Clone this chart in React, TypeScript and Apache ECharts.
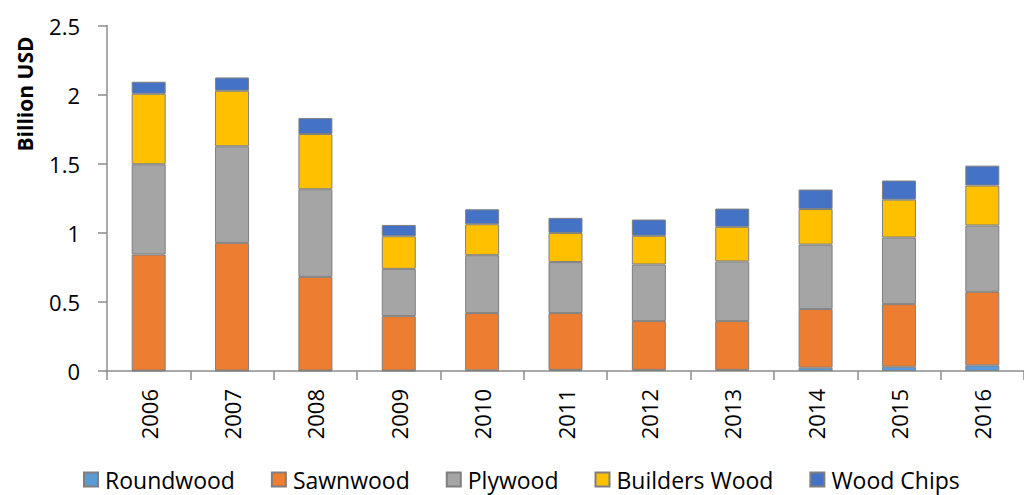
import React, { useEffect, useRef } from "react";
import * as echarts from "echarts";

const years = ["2006", "2007", "2008", "2009", "2010", "2011", "2012", "2013", "2014", "2015", "2016"];
const roundwood = [0.003, 0.003, 0.003, 0.003, 0.005, 0.008, 0.008, 0.008, 0.024, 0.031, 0.041];
const sawnwood = [0.84, 0.924, 0.678, 0.394, 0.414, 0.411, 0.353, 0.353, 0.424, 0.453, 0.532];
const plywood = [0.653, 0.699, 0.634, 0.342, 0.419, 0.369, 0.41, 0.432, 0.467, 0.482, 0.48];
const buildersWood = [0.51, 0.402, 0.4, 0.236, 0.224, 0.211, 0.207, 0.25, 0.257, 0.274, 0.289];
const woodChips = [0.087, 0.096, 0.115, 0.082, 0.108, 0.109, 0.118, 0.132, 0.141, 0.138, 0.144];

const seriesNames = ["Roundwood", "Sawnwood", "Plywood", "Builders Wood", "Wood Chips"];
const seriesColors = ["#5B9BD5", "#ED7D31", "#A5A5A5", "#FFC000", "#4472C4"];
const yTicks = { min: 0, max: 2.5, interval: 0.5 };

const FONT = "'Open Sans', sans-serif";

export default function App() {
  const ref = useRef<HTMLDivElement>(null);
  useEffect(() => {
    if (!ref.current) return;
    const chart = echarts.init(ref.current, null, { renderer: "svg" });
    const dataSets = [roundwood, sawnwood, plywood, buildersWood, woodChips];
    chart.setOption({
      animation: false,
      textStyle: { fontFamily: FONT, color: "#000" },
      grid: { left: 107, top: 25.5, width: 928, height: 345.5 },
      legend: {
        left: 83,
        top: 466,
        padding: 0,
        itemWidth: 14,
        itemHeight: 14,
        itemGap: 36,
        icon: "rect",
        textStyle: { fontFamily: FONT, fontSize: 23, lineHeight: 27, color: "#000", padding: [0, 0, 0, 2] },
        data: seriesNames,
      },
      graphic: [
        {
          type: "text",
          x: 25,
          y: 94,
          rotation: Math.PI / 2,
          style: {
            text: "Billion USD",
            font: `bold 21px ${FONT}`,
            fill: "#000",
            align: "center",
            verticalAlign: "middle",
          },
        },
      ],
      xAxis: {
        type: "category",
        data: years,
        axisLine: { show: true, lineStyle: { color: "#8C8C8C", width: 1.5 } },
        axisTick: { show: true, length: 9, lineStyle: { color: "#8C8C8C", width: 1.5 } },
        axisLabel: { rotate: 90, margin: 18, fontSize: 22, color: "#000", fontFamily: FONT },
      },
      yAxis: {
        type: "value",
        min: yTicks.min,
        max: yTicks.max,
        interval: yTicks.interval,
        axisLine: { show: true, lineStyle: { color: "#8C8C8C", width: 1.5 } },
        axisTick: { show: true, length: 9, lineStyle: { color: "#8C8C8C", width: 1.5 } },
        splitLine: { show: false },
        axisLabel: { margin: 27, fontSize: 22, color: "#000", fontFamily: FONT },
      },
      series: seriesNames.map((name, i) => ({
        name,
        type: "bar",
        stack: "total",
        barWidth: 34,
        data: dataSets[i],
        itemStyle: { color: seriesColors[i], borderColor: "#7F7F7F", borderWidth: 1 },
      })),
    });
    return () => chart.dispose();
  }, []);
  return (
    <div
      ref={ref}
      style={{ position: "absolute", left: 0, top: 0, width: 1024, height: 495, background: "#fff" }}
    />
  );
}
